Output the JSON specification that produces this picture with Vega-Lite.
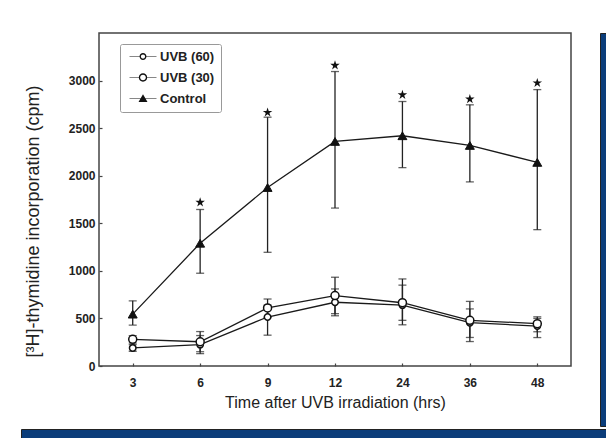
{
  "$schema": "https://vega.github.io/schema/vega-lite/v6.json",
  "background": "white",
  "padding": {"left": 20, "top": 32, "right": 0, "bottom": 0},
  "config": {
    "font": "Liberation Sans",
    "view": {"stroke": null},
    "axis": {
      "labelFont": "Liberation Sans",
      "labelFontSize": 12,
      "labelFontWeight": "bold",
      "labelColor": "#222",
      "titleFont": "Liberation Sans",
      "titleFontWeight": "normal",
      "titleColor": "#222",
      "grid": false,
      "domain": false,
      "tickColor": "#444",
      "tickWidth": 1.2,
      "tickSize": -3
    }
  },
  "spacing": 0,
  "resolve": {"scale": {"shape": "independent"}, "legend": {"shape": "independent"}},
  "vconcat": [
    {
      "spacing": 0,
      "resolve": {"scale": {"shape": "independent"}, "legend": {"shape": "independent"}},
      "hconcat": [
        {
          "width": 2,
          "height": 30,
          "data": {"values": [{}]},
          "mark": {"type": "text", "text": ""},
          "encoding": {}
        },
        {
          "spacing": 27,
          "resolve": {"scale": {"shape": "independent"}, "legend": {"shape": "independent"}},
          "hconcat": [
            {
              "width": 472,
              "height": 333,
              "view": {"stroke": "#444", "strokeWidth": 1.5},
              "data": {
                "values": [
                  {"time": "3", "series": "Control", "value": 545, "lo": 430, "hi": 685},
                  {"time": "6", "series": "Control", "value": 1290, "lo": 975, "hi": 1645, "star": 1720},
                  {"time": "9", "series": "Control", "value": 1876, "lo": 1195, "hi": 2615, "star": 2665},
                  {"time": "12", "series": "Control", "value": 2360, "lo": 1660, "hi": 3095, "star": 3160},
                  {"time": "24", "series": "Control", "value": 2420, "lo": 2085, "hi": 2780, "star": 2850},
                  {"time": "36", "series": "Control", "value": 2318, "lo": 1935, "hi": 2745, "star": 2805},
                  {"time": "48", "series": "Control", "value": 2140, "lo": 1433, "hi": 2905, "star": 2975},
                  {"time": "3", "series": "UVB (30)", "value": 280, "lo": 240, "hi": 320},
                  {"time": "6", "series": "UVB (30)", "value": 255, "lo": 150, "hi": 362},
                  {"time": "9", "series": "UVB (30)", "value": 610, "lo": 510, "hi": 704},
                  {"time": "12", "series": "UVB (30)", "value": 740, "lo": 550, "hi": 933},
                  {"time": "24", "series": "UVB (30)", "value": 665, "lo": 480, "hi": 915},
                  {"time": "36", "series": "UVB (30)", "value": 480, "lo": 300, "hi": 679},
                  {"time": "48", "series": "UVB (30)", "value": 445, "lo": 360, "hi": 517},
                  {"time": "3", "series": "UVB (60)", "value": 190, "lo": 155, "hi": 225},
                  {"time": "6", "series": "UVB (60)", "value": 225, "lo": 130, "hi": 320},
                  {"time": "9", "series": "UVB (60)", "value": 515, "lo": 324, "hi": 640},
                  {"time": "12", "series": "UVB (60)", "value": 670, "lo": 528, "hi": 810},
                  {"time": "24", "series": "UVB (60)", "value": 640, "lo": 433, "hi": 850},
                  {"time": "36", "series": "UVB (60)", "value": 455, "lo": 257, "hi": 600},
                  {"time": "48", "series": "UVB (60)", "value": 420, "lo": 299, "hi": 500}
                ]
              },
              "encoding": {
                "x": {
                  "field": "time",
                  "type": "ordinal",
                  "sort": ["3", "6", "9", "12", "24", "36", "48"],
                  "scale": {"type": "point", "padding": 0.5},
                  "axis": {
                    "title": "Time after UVB irradiation (hrs)",
                    "labelAngle": 0,
                    "labelPadding": 14,
                    "titleFontSize": 16,
                    "titlePadding": 6
                  }
                }
              },
              "layer": [
                {
                  "mark": {"type": "rule", "color": "#222", "strokeWidth": 1.3},
                  "encoding": {
                    "y": {
                      "field": "lo",
                      "type": "quantitative",
                      "title": "[³H]-thymidine incorporation (cpm)",
                      "scale": {"domain": [0, 3500], "nice": false},
                      "axis": {
                        "values": [0, 500, 1000, 1500, 2000, 2500, 3000],
                        "format": "d",
                        "titleFontSize": 18,
                        "labelPadding": 7,
                        "titlePadding": 26,
                        "titleY": 188
                      }
                    },
                    "y2": {"field": "hi"}
                  }
                },
                {
                  "mark": {"type": "tick", "color": "#222", "thickness": 1.3, "size": 8},
                  "encoding": {
                    "y": {"field": "lo", "type": "quantitative", "title": "[³H]-thymidine incorporation (cpm)"}
                  }
                },
                {
                  "mark": {"type": "tick", "color": "#222", "thickness": 1.3, "size": 8},
                  "encoding": {
                    "y": {"field": "hi", "type": "quantitative", "title": "[³H]-thymidine incorporation (cpm)"}
                  }
                },
                {
                  "mark": {"type": "line", "color": "#1a1a1a", "strokeWidth": 1.3},
                  "encoding": {
                    "y": {"field": "value", "type": "quantitative", "title": "[³H]-thymidine incorporation (cpm)"},
                    "detail": {"field": "series"}
                  }
                },
                {
                  "transform": [{"filter": "datum.series === 'UVB (60)'"}],
                  "mark": {"type": "point", "filled": true, "fill": "white", "stroke": "#111", "strokeWidth": 1.5, "opacity": 1, "shape": "circle", "size": 42},
                  "encoding": {
                    "y": {"field": "value", "type": "quantitative", "title": "[³H]-thymidine incorporation (cpm)"}
                  }
                },
                {
                  "transform": [{"filter": "datum.series === 'UVB (30)'"}],
                  "mark": {"type": "point", "filled": true, "fill": "white", "stroke": "#111", "strokeWidth": 1.5, "opacity": 1, "shape": "circle", "size": 64},
                  "encoding": {
                    "y": {"field": "value", "type": "quantitative", "title": "[³H]-thymidine incorporation (cpm)"}
                  }
                },
                {
                  "transform": [{"filter": "datum.series === 'Control'"}],
                  "mark": {"type": "point", "filled": true, "fill": "#111", "stroke": "#111", "strokeWidth": 1, "opacity": 1, "shape": "triangle-up", "size": 80},
                  "encoding": {
                    "y": {"field": "value", "type": "quantitative", "title": "[³H]-thymidine incorporation (cpm)"}
                  }
                },
                {
                  "transform": [{"filter": "false"}],
                  "mark": {"type": "point", "filled": true, "fill": "#111", "opacity": 1, "size": 36},
                  "encoding": {
                    "y": {"field": "value", "type": "quantitative", "title": "[³H]-thymidine incorporation (cpm)"},
                    "shape": {
                      "field": "series",
                      "type": "nominal",
                      "scale": {
                        "domain": ["UVB (60)", "UVB (30)", "Control"],
                        "range": [
                          "M-1,-0.11H2.45V0.11H-1Z M4.55,-0.11H8V0.11H4.55Z M2.35,0A1.15,1.15,0,1,1,4.65,0A1.15,1.15,0,1,1,2.35,0Z M2.8,0A0.7,0.7,0,1,0,4.2,0A0.7,0.7,0,1,0,2.8,0Z",
                          "M-1,-0.11H2.2V0.11H-1Z M4.8,-0.11H8V0.11H4.8Z M2.1,0A1.4,1.4,0,1,1,4.9,0A1.4,1.4,0,1,1,2.1,0Z M2.55,0A0.95,0.95,0,1,0,4.45,0A0.95,0.95,0,1,0,2.55,0Z",
                          "M-1,-0.11H8V0.11H-1Z M3.5,-1.4L5,1.2L2,1.2Z"
                        ]
                      },
                      "legend": {
                        "title": null,
                        "orient": "none",
                        "legendX": 21,
                        "legendY": 11,
                        "strokeColor": "#999",
                        "cornerRadius": 2,
                        "fillColor": "white",
                        "padding": 6,
                        "rowPadding": 6,
                        "labelOffset": 21,
                        "labelFont": "Liberation Sans",
                        "labelFontSize": 13,
                        "labelFontWeight": "bold",
                        "labelColor": "#222",
                        "symbolSize": 36
                      }
                    }
                  }
                },
                {
                  "transform": [{"filter": "isValid(datum.star)"}],
                  "mark": {
                    "type": "point",
                    "filled": true,
                    "color": "#111",
                    "opacity": 1,
                    "size": 100,
                    "shape": "M0,-1L0.225,-0.309L0.951,-0.309L0.363,0.118L0.588,0.809L0,0.382L-0.588,0.809L-0.363,0.118L-0.951,-0.309L-0.225,-0.309Z"
                  },
                  "encoding": {
                    "y": {"field": "star", "type": "quantitative", "title": "[³H]-thymidine incorporation (cpm)"}
                  }
                }
              ]
            },
            {
              "width": 8,
              "height": 393,
              "view": {"fill": "#0b3d7a", "stroke": "#222", "strokeWidth": 1},
              "data": {"values": [{}]},
              "mark": {"type": "text", "text": ""},
              "encoding": {}
            }
          ]
        }
      ]
    },
    {
      "width": 586,
      "height": 10,
      "view": {"fill": "#0b3d7a", "stroke": "#222", "strokeWidth": 1},
      "data": {"values": [{}]},
      "mark": {"type": "text", "text": ""},
      "encoding": {}
    }
  ]
}
